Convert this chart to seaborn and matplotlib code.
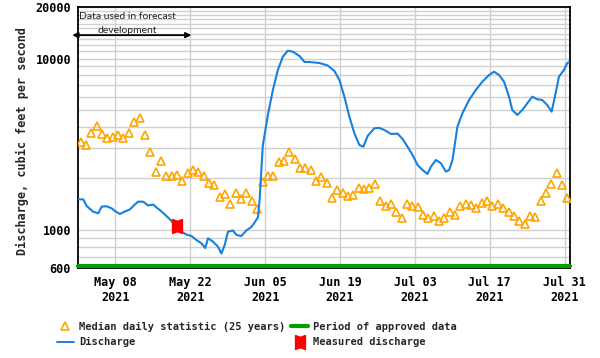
import numpy as np
import pandas as pd
import matplotlib
matplotlib.use("Agg")
import matplotlib.pyplot as plt
from matplotlib.lines import Line2D
from matplotlib.path import Path
import seaborn as sns

# median daily statistic (25 years), one value per day from May 1 2021
median_start = "2021-05-01 12:00"
median_cfs = [3270, 3130, 3700, 4060, 3630, 3430, 3500, 3580, 3430, 3670,
              4250, 4480, 3580, 2840, 2170, 2530, 2070, 2070, 2090, 1920,
              2150, 2240, 2190, 2070, 1890, 1830, 1550, 1615, 1410, 1650,
              1520, 1650, 1480, 1330, 1900, 2070, 2070, 2490, 2530, 2850,
              2590, 2290, 2300, 2240, 1920, 2030, 1870, 1530, 1700, 1650,
              1580, 1600, 1750, 1730, 1750, 1850, 1480, 1380, 1410, 1270,
              1170, 1420, 1380, 1360, 1230, 1180, 1200, 1130, 1180, 1270,
              1230, 1380, 1410, 1400, 1340, 1430, 1480, 1380, 1420, 1340,
              1280, 1200, 1130, 1080, 1210, 1190, 1480, 1640, 1860, 2140,
              1830, 1530]

# discharge, days after May 1 2021 00:00
discharge_day = [0, 0.37, 0.99, 1.62, 2.24, 2.85, 3.79, 4.42, 5.35, 6.29,
                 6.90, 7.84, 8.77, 9.70, 10.63, 11.25, 12.18, 13.12, 14.05, 14.68,
                 15.62, 16.55, 17.48, 18.28, 19.35, 20.28, 21.21, 22.15, 23.08, 23.79,
                 24.31, 25.24, 26.18, 26.81, 27.43, 28.04, 28.97, 29.66, 30.54, 31.47,
                 32.41, 33.02, 33.64, 33.96, 34.27, 34.57, 34.89, 35.50, 36.44, 37.37,
                 38.30, 39.24, 40.17, 41.42, 42.35, 43.28, 45.15, 46.70, 47.95, 48.88,
                 49.81, 50.75, 51.68, 52.61, 53.36, 54.16, 55.41, 56.34, 57.28, 58.53,
                 59.76, 60.69, 61.62, 62.56, 63.49, 64.42, 65.35, 65.99, 66.92, 67.86,
                 68.79, 69.40, 70.02, 70.95, 71.88, 73.13, 74.38, 75.62, 76.87, 77.80,
                 78.73, 79.66, 80.60, 81.21, 82.15, 83.08, 84.01, 84.94, 85.88, 86.81,
                 87.74, 88.56, 89.31, 89.93, 90.86, 91.47, 91.79]
discharge_cfs = [1516, 1511, 1507, 1380, 1326, 1278, 1251, 1368, 1375, 1338,
                 1291, 1240, 1282, 1317, 1408, 1463, 1463, 1390, 1408, 1353,
                 1282, 1206, 1129, 1055, 977, 941, 922, 874, 836, 785,
                 894, 855, 799, 729, 817, 977, 993, 935, 922, 993,
                 1041, 1106, 1183, 1496, 2210, 3133, 3583, 4688, 6558, 8579,
                 10257, 11117, 10970, 10353, 9553, 9553, 9427, 9115, 8465, 7502,
                 5993, 4581, 3665, 3133, 3062, 3535, 3921, 3940, 3832, 3631,
                 3650, 3396, 3062, 2738, 2394, 2239, 2122, 2340, 2561, 2450,
                 2189, 2239, 2561, 4005, 4796, 5733, 6558, 7333, 8023, 8385,
                 8023, 7333, 5993, 5013, 4688, 5013, 5485, 5993, 5788, 5733,
                 5360, 4899, 6272, 7840, 8579, 9386, 9553]

measured_time = ["2021-05-19 13:00"]
measured_cfs = [1060]

approved_period = ["2021-05-01", "2021-08-01"]

tick_dates = ["2021-05-08", "2021-05-22", "2021-06-05", "2021-06-19",
              "2021-07-03", "2021-07-17", "2021-07-31"]
tick_labels = ["May 08\n2021", "May 22\n2021", "Jun 05\n2021", "Jun 19\n2021",
               "Jul 03\n2021", "Jul 17\n2021", "Jul 31\n2021"]
y_ticks = [600, 1000, 10000, 20000]
y_grid = [700, 800, 900, 2000, 3000, 4000, 5000, 6000, 7000, 8000, 9000,
          11000, 12000, 13000, 14000, 15000, 16000, 17000, 18000, 19000]

sns.set_style("white")
plt.rcParams["font.family"] = ["DejaVu Sans Mono"]
plt.rcParams["font.weight"] = "bold"

med_df = pd.DataFrame({
    "date": pd.date_range(median_start, periods=len(median_cfs), freq="D"),
    "cfs": median_cfs})
dis_df = pd.DataFrame({
    "date": pd.Timestamp("2021-05-01") + pd.to_timedelta(discharge_day, unit="D"),
    "cfs": discharge_cfs})

orange = "#ffa500"
blue = "#1780dc"
green = "#00a000"

fig = plt.figure(figsize=(6, 3.58), dpi=100)
ax = fig.add_axes([78 / 600, 1 - 268 / 358, 492 / 600, 261 / 358])
ax.set_yscale("log")

# grid
for d in tick_dates:
    ax.axvline(pd.Timestamp(d), color="#d0d0d0", lw=1, zorder=0)
for v in y_grid + y_ticks:
    ax.axhline(v, color="#d0d0d0", lw=1, zorder=0)

sns.lineplot(data=med_df, x="date", y="cfs", ax=ax, color=orange, marker="^",
             linestyle="", markersize=5.7, markerfacecolor="none",
             markeredgecolor=orange, markeredgewidth=1.2, zorder=3)
sns.lineplot(data=dis_df, x="date", y="cfs", ax=ax, color=blue, lw=1.5, zorder=4)
sns.lineplot(x=pd.to_datetime(approved_period), y=[615, 615], ax=ax,
             color=green, lw=3, zorder=5, clip_on=False)

bowtie = Path([(-1, -1.4), (0, -1.05), (1, -1.4), (1, 1.4), (0, 1.05), (-1, 1.4), (-1, -1.4)],
              [Path.MOVETO] + [Path.LINETO] * 5 + [Path.CLOSEPOLY])
ax.plot(pd.to_datetime(measured_time), measured_cfs, linestyle="", marker=bowtie,
        markersize=10, color="red", zorder=6)

ax.set_xlim(pd.Timestamp("2021-05-01"), pd.Timestamp("2021-08-01"))
ax.set_ylim(600, 20000)
ax.set_xticks(pd.to_datetime(tick_dates))
ax.set_xticklabels(tick_labels)
ax.set_yticks(y_ticks)
ax.set_yticklabels([str(v) for v in y_ticks])
ax.yaxis.set_minor_locator(matplotlib.ticker.NullLocator())
ax.tick_params(axis="both", length=0, labelsize=8.5, colors="black")
ax.tick_params(axis="x", pad=6)
ax.tick_params(axis="y", pad=5)
for lab in ax.get_xticklabels() + ax.get_yticklabels():
    lab.set_fontweight("bold")

ax.set_xlabel("")
ax.set_ylabel("Discharge, cubic feet per second", fontsize=8.5, fontweight="bold")
ax.yaxis.set_label_coords(-0.10, 0.485)

for s in ax.spines.values():
    s.set_color("black")
    s.set_linewidth(1.3)

# forecast-development annotation
ax.annotate("", xy=(pd.Timestamp("2021-05-22 05:00"), 13700),
            xytext=(pd.Timestamp("2021-04-29 22:00"), 13700),
            arrowprops=dict(arrowstyle="<|-|>", color="black", lw=1.3,
                            mutation_scale=8, shrinkA=0, shrinkB=0),
            annotation_clip=False)
ax.text(pd.Timestamp("2021-05-10 06:00"), 16000, "Data used in forecast\ndevelopment",
        ha="center", va="center", fontsize=7.5, family=["Lato", "DejaVu Sans"],
        fontweight="normal", linespacing=1.7)

handles = [
    Line2D([], [], linestyle="", marker="^", markersize=5.3, markerfacecolor="none",
           markeredgecolor=orange, markeredgewidth=1.2),
    Line2D([], [], color=blue, lw=1.4),
    Line2D([], [], color=green, lw=3),
    Line2D([], [], linestyle="", marker=bowtie, markersize=10, color="red"),
]
labels = ["Median daily statistic (25 years)", "Discharge",
          "Period of approved data", "Measured discharge"]
fig.legend(handles, labels, ncol=2, loc="upper left",
           bbox_to_anchor=(57 / 600, 1 - 322 / 358), frameon=False,
           prop={"size": 7.5, "weight": "bold", "family": "DejaVu Sans Mono"},
           handlelength=1.6, handletextpad=0.5, columnspacing=0.6,
           borderpad=0, borderaxespad=0, labelspacing=0.5)

fig.savefig("out.png", dpi=100)
